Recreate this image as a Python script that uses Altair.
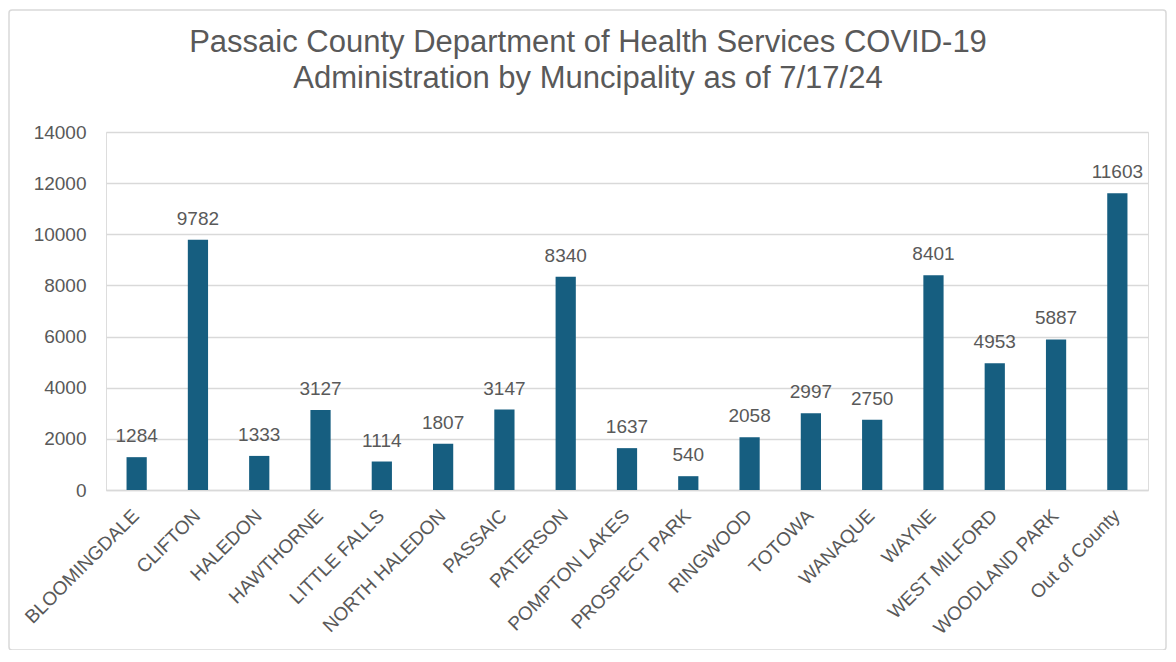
import altair as alt
import pandas as pd

municipalities = ["BLOOMINGDALE", "CLIFTON", "HALEDON", "HAWTHORNE", "LITTLE FALLS",
                  "NORTH HALEDON", "PASSAIC", "PATERSON", "POMPTON LAKES", "PROSPECT PARK",
                  "RINGWOOD", "TOTOWA", "WANAQUE", "WAYNE", "WEST MILFORD",
                  "WOODLAND PARK", "Out of County"]
doses = [1284, 9782, 1333, 3127, 1114, 1807, 3147, 8340, 1637, 540,
         2058, 2997, 2750, 8401, 4953, 5887, 11603]
y_ticks = [0, 2000, 4000, 6000, 8000, 10000, 12000, 14000]
title_lines = ["Passaic County Department of Health Services COVID-19",
               "Administration by Muncipality as of 7/17/24"]

df = pd.DataFrame({"Municipality": municipalities, "Doses": doses})

FONT = "Liberation Sans"
GRAY = "#595959"
BAR = "#165e80"
FS = 19

x = alt.X("Municipality:N", sort=municipalities, title=None,
          scale=alt.Scale(paddingInner=0.67, paddingOuter=0.335),
          axis=alt.Axis(labelAngle=-45, labelFontSize=FS, labelColor=GRAY, labelFont=FONT,
                        ticks=False, domainColor="#d9d9d9", domainWidth=1.5,
                        labelPadding=16, labelOffset=-7, grid=False))
y = alt.Y("Doses:Q", title=None,
          scale=alt.Scale(domain=[0, 14000], nice=False),
          axis=alt.Axis(values=y_ticks, format="d", labelFontSize=FS, labelColor=GRAY,
                        labelFont=FONT, ticks=False, domain=False, gridColor="#d9d9d9",
                        gridWidth=1.5, labelPadding=20))

bars = alt.Chart(df).mark_bar(color=BAR).encode(x=x, y=y)
labels = alt.Chart(df).mark_text(baseline="alphabetic", dy=-15, fontSize=FS,
                                 color=GRAY, font=FONT).encode(
    x=alt.X("Municipality:N", sort=municipalities),
    y="Doses:Q",
    text=alt.Text("Doses:Q", format="d"))

one = pd.DataFrame({"f": [0]})
frame = alt.Chart(one).mark_rect(
    fill=None, stroke="#d9d9d9", strokeWidth=1.5, cornerRadius=3).encode(
    x=alt.value(-97), x2=alt.value(1060), y=alt.value(-122), y2=alt.value(518))

title1 = alt.Chart(one).mark_text(fontSize=31, font=FONT, color=GRAY, align="center",
                                  baseline="alphabetic").encode(
    x=alt.value(482), y=alt.value(-80), text=alt.value(title_lines[0]))
title2 = alt.Chart(one).mark_text(fontSize=31, font=FONT, color=GRAY, align="center",
                                  baseline="alphabetic").encode(
    x=alt.value(482), y=alt.value(-44), text=alt.value(title_lines[1]))

chart = alt.layer(frame, title1, title2, bars, labels).properties(
    width=1042, height=358,
    padding={"left": 98, "top": 124, "right": 20, "bottom": 160},
    autosize=alt.AutoSizeParams(type="none"),
).configure_view(stroke=None).configure(background="white")

chart.save("out.html", embed_options={"renderer": "svg", "actions": False})
